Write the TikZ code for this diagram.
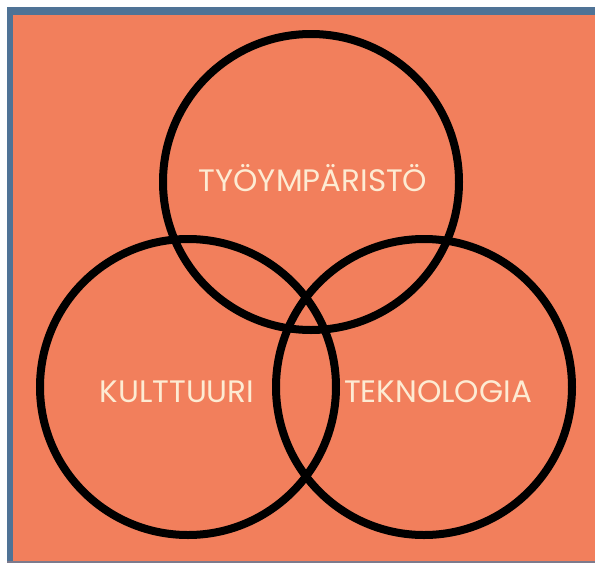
\documentclass[tikz,border=0pt]{standalone}
\usepackage{fontspec}
\newfontfamily\vennfont{Poppins}
\definecolor{frame}{HTML}{4F7396}
\definecolor{bg}{HTML}{F27F5C}
\definecolor{cream}{HTML}{FDEBD3}
\definecolor{edge}{HTML}{7D7A8C}

\begin{document}
\begin{tikzpicture}[x=1pt, y=-1pt,
  ring/.style={circle, draw=black, line width=8pt, minimum size=296pt, inner sep=0pt},
  word/.style={anchor=base, text=cream, font=\vennfont\fontsize{31}{31}\selectfont},
]
\useasboundingbox (0,0) rectangle (595,563);
\fill[white] (0,0) rectangle (595,563);
\fill[frame] (7,7) rectangle (595,561);
\fill[bg] (13,15) rectangle (595,561);
\fill[edge] (7,561) rectangle (595,563);

\node[ring] (tyo) at (311,182) {};
\node[ring] (kul) at (188,387) {};
\node[ring] (tek) at (424,387) {};

\node[word] (ltyo) at (313,191) {TYÖYMPÄRISTÖ};
\node[word] (lkul) at (177,402) {KULTTUURI};
\node[word] (ltek) at (438,402) {TEKNOLOGIA};

\end{tikzpicture}
\end{document}
